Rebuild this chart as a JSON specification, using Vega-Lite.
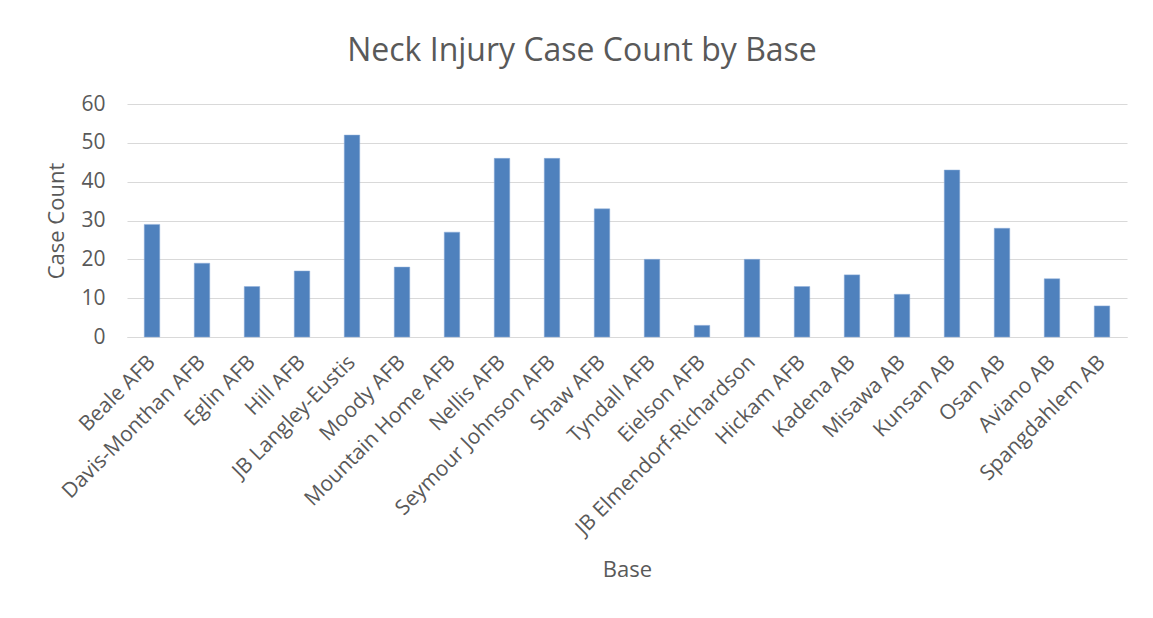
{
  "$schema": "https://vega.github.io/schema/vega-lite/v6.json",
  "width": 1000,
  "height": 233,
  "autosize": {"type": "none"},
  "padding": {"left": 127, "top": 104, "right": 26, "bottom": 281},
  "background": "white",
  "title": {
    "text": "Neck Injury Case Count by Base",
    "font": "Open Sans",
    "fontSize": 32,
    "fontWeight": "normal",
    "color": "#595959",
    "anchor": "middle",
    "dx": -45,
    "offset": 25
  },
  "data": {
    "values": [
      {"Base": "Beale AFB", "Count": 29},
      {"Base": "Davis-Monthan AFB", "Count": 19},
      {"Base": "Eglin AFB", "Count": 13},
      {"Base": "Hill AFB", "Count": 17},
      {"Base": "JB Langley-Eustis", "Count": 52},
      {"Base": "Moody AFB", "Count": 18},
      {"Base": "Mountain Home AFB", "Count": 27},
      {"Base": "Nellis AFB", "Count": 46},
      {"Base": "Seymour Johnson AFB", "Count": 46},
      {"Base": "Shaw AFB", "Count": 33},
      {"Base": "Tyndall AFB", "Count": 20},
      {"Base": "Eielson AFB", "Count": 3},
      {"Base": "JB Elmendorf-Richardson", "Count": 20},
      {"Base": "Hickam AFB", "Count": 13},
      {"Base": "Kadena AB", "Count": 16},
      {"Base": "Misawa AB", "Count": 11},
      {"Base": "Kunsan AB", "Count": 43},
      {"Base": "Osan AB", "Count": 28},
      {"Base": "Aviano AB", "Count": 15},
      {"Base": "Spangdahlem AB", "Count": 8}
    ]
  },
  "mark": {"type": "bar", "color": "#4F81BD", "stroke": "#8FAEDB", "strokeWidth": 0.5},
  "encoding": {
    "x": {
      "field": "Base",
      "type": "nominal",
      "sort": null,
      "scale": {"paddingInner": 0.69, "paddingOuter": 0.345},
      "axis": {
        "title": "Base",
        "labelAngle": -45,
        "labelAlign": "right",
        "labelBaseline": "middle",
        "labelPadding": 22,
        "ticks": false,
        "domainColor": "#D9D9D9",
        "domainWidth": 1,
        "titlePadding": 22,
        "labelLimit": 400
      }
    },
    "y": {
      "field": "Count",
      "type": "quantitative",
      "scale": {"domain": [0, 60]},
      "axis": {
        "title": "Case Count",
        "values": [0, 10, 20, 30, 40, 50, 60],
        "ticks": false,
        "domain": false,
        "labelPadding": 22,
        "titlePadding": 12,
        "gridColor": "#D9D9D9",
        "gridWidth": 1
      }
    }
  },
  "config": {
    "view": {"stroke": null},
    "axis": {
      "labelFont": "Open Sans",
      "labelFontSize": 21,
      "labelColor": "#595959",
      "titleFont": "Open Sans",
      "titleFontSize": 22,
      "titleFontWeight": "normal",
      "titleColor": "#595959"
    }
  }
}
